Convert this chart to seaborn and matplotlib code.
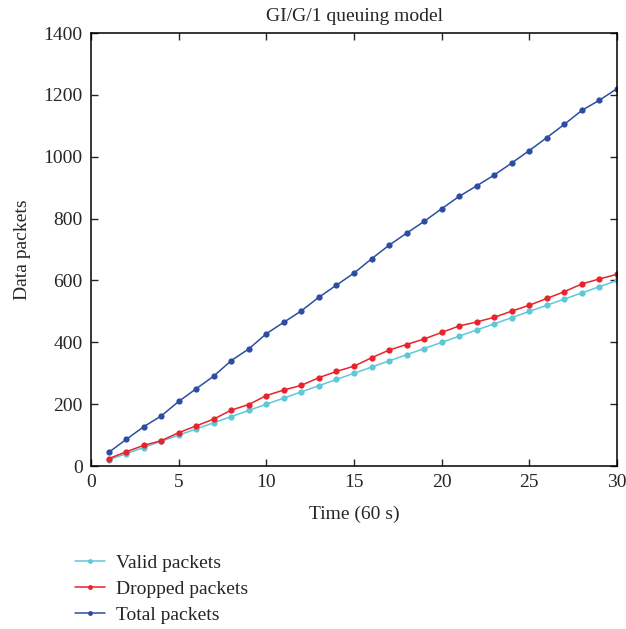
import numpy as np
import pandas as pd
import matplotlib
matplotlib.use("Agg")
from matplotlib import pyplot as plt
import seaborn as sns

time = list(range(1, 31))
valid = [20, 40, 60, 80, 100, 120, 140, 160, 180, 200,
         220, 240, 260, 280, 300, 320, 340, 360, 380, 400,
         420, 440, 460, 480, 500, 520, 540, 560, 580, 600]
dropped = [24, 46, 67, 82, 108, 130, 152, 181, 199, 228,
           246, 261, 286, 306, 323, 350, 375, 393, 411, 432,
           453, 466, 481, 501, 520, 542, 564, 589, 605, 620]
total = [44, 86, 127, 162, 209, 250, 291, 341, 379, 428,
         465, 502, 546, 585, 624, 670, 714, 753, 791, 832,
         872, 906, 941, 980, 1020, 1062, 1105, 1150, 1183, 1220]
series_names = ["Valid packets", "Dropped packets", "Total packets"]
colors = ["#5ec8d8", "#e8232b", "#2c4da2"]

df = pd.DataFrame({
    "Time": time * 3,
    "Packets": valid + dropped + total,
    "Series": np.repeat(series_names, len(time)),
})

sns.set_style("ticks")
plt.rcParams["font.family"] = ["Liberation Serif", "DejaVu Serif"]
fs = 14

fig = plt.figure(figsize=(6.26, 6.29), dpi=100)
ax = fig.add_axes([0.1454, 0.259, 0.8402, 0.6885])

sns.lineplot(data=df, x="Time", y="Packets", hue="Series", hue_order=series_names,
             palette=colors, marker="o", markersize=4.5, markeredgewidth=0,
             linewidth=1.1, ax=ax, legend=False)

ax.set_xlim(0, 30)
ax.set_ylim(0, 1400)
ax.set_xticks([0, 5, 10, 15, 20, 25, 30])
ax.set_yticks(range(0, 1401, 200))
ax.tick_params(direction="in", top=True, right=True, length=5, width=1,
               labelsize=fs, pad=6)
for s in ax.spines.values():
    s.set_linewidth(1.1)
    s.set_color("black")
ax.set_xlabel("Time (60 s)", fontsize=fs, labelpad=10)
ax.set_ylabel("Data packets", fontsize=fs, labelpad=9)
ax.set_title("GI/G/1 queuing model", fontsize=fs, pad=9)

handles = [plt.Line2D([], [], color=c, marker="o", markersize=3.5, markeredgewidth=0,
                      linewidth=1.1) for c in colors]
fig.legend(handles, series_names, loc="upper left", bbox_to_anchor=(0.108, 0.131),
           frameon=False, fontsize=fs, handlelength=1.5, handletextpad=0.6,
           labelspacing=0.42, borderaxespad=0)

fig.savefig("out.png", dpi=100)
